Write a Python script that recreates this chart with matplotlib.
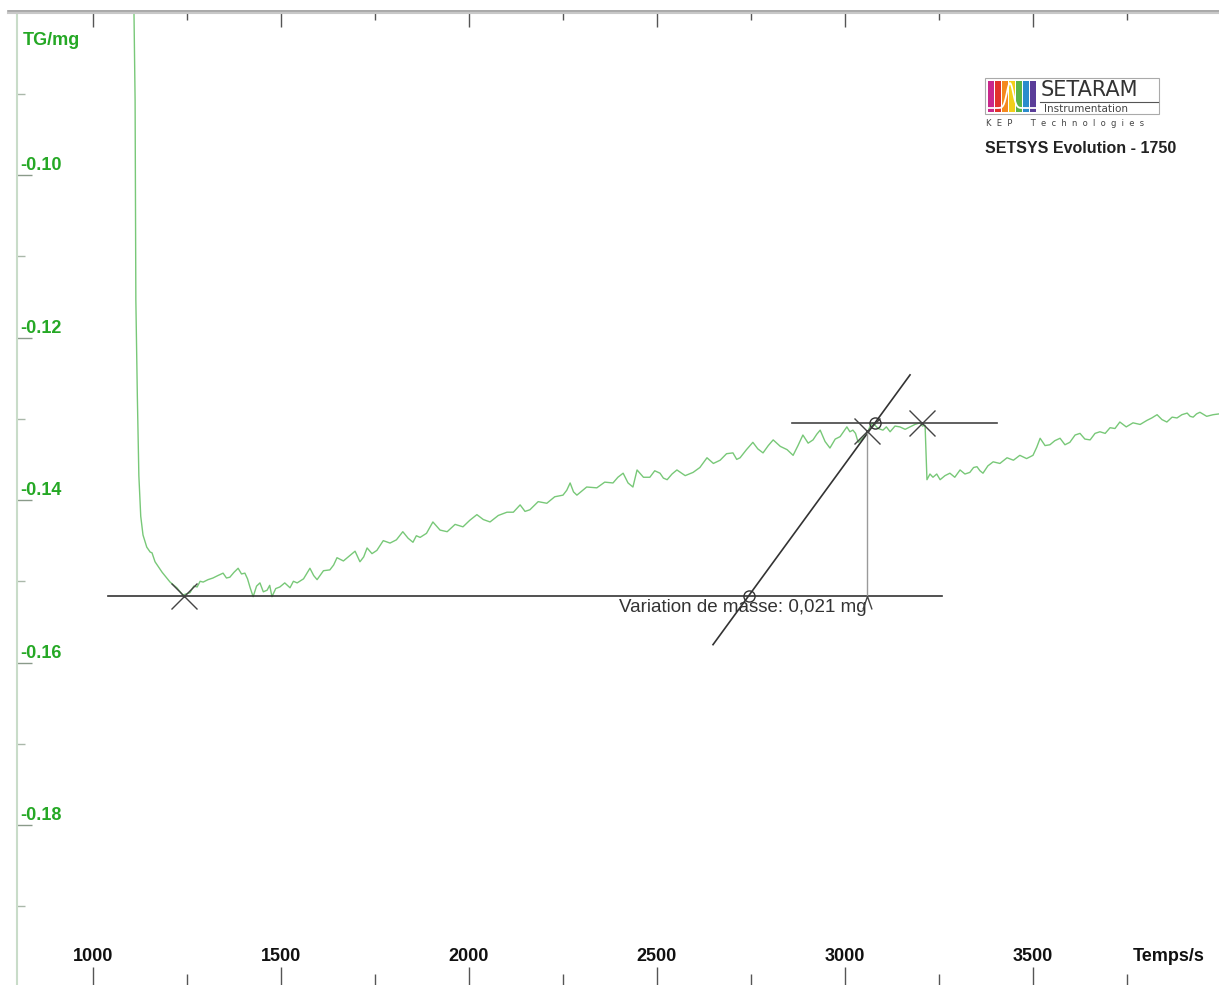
import numpy as np
import matplotlib
matplotlib.use("Agg")
import matplotlib.pyplot as plt
from matplotlib.lines import Line2D
from matplotlib.patches import Rectangle
from matplotlib import transforms

# ---------------- data ----------------
time_s = [1105, 1109, 1112, 1114, 1118, 1122, 1127, 1133, 1143, 1152,
          1157, 1165, 1184, 1205, 1223, 1239, 1258, 1268, 1277, 1285,
          1293, 1306, 1319, 1332, 1346, 1355, 1364, 1375, 1386, 1395,
          1404, 1411, 1418, 1426, 1435, 1444, 1453, 1463, 1470, 1476,
          1486, 1497, 1510, 1524, 1533, 1543, 1560, 1577, 1587, 1596,
          1613, 1630, 1640, 1649, 1666, 1684, 1697, 1710, 1720, 1729,
          1742, 1755, 1772, 1790, 1807, 1824, 1838, 1851, 1860, 1870,
          1887, 1904, 1923, 1942, 1963, 1984, 2002, 2021, 2038, 2056,
          2078, 2101, 2118, 2136, 2149, 2162, 2184, 2207, 2228, 2250,
          2260, 2269, 2278, 2287, 2313, 2340, 2361, 2383, 2396, 2410,
          2423, 2436, 2447, 2464, 2481, 2494, 2508, 2517, 2527, 2540,
          2553, 2575, 2596, 2614, 2633, 2650, 2668, 2685, 2702, 2712,
          2721, 2738, 2755, 2768, 2782, 2796, 2809, 2828, 2846, 2862,
          2875, 2888, 2902, 2915, 2925, 2934, 2947, 2960, 2974, 2987,
          2996, 3005, 3013, 3021, 3028, 3035, 3047, 3059, 3066, 3074,
          3088, 3101, 3110, 3120, 3133, 3146, 3160, 3173, 3186, 3199,
          3206, 3213, 3218, 3226, 3234, 3244, 3253, 3266, 3279, 3292,
          3306, 3319, 3332, 3342, 3351, 3359, 3367, 3380, 3394, 3412,
          3431, 3448, 3465, 3483, 3500, 3510, 3519, 3532, 3545, 3558,
          3572, 3585, 3598, 3612, 3625, 3638, 3652, 3665, 3678, 3692,
          3705, 3718, 3731, 3748, 3766, 3785, 3803, 3816, 3830, 3843,
          3856, 3870, 3883, 3896, 3910, 3918, 3926, 3935, 3944, 3962,
          3979, 3995]
mass_mg = [-0.0750, -0.0799, -0.0908, -0.1154, -0.1273, -0.1370, -0.1420, -0.1443, -0.1458, -0.1464,
           -0.1465, -0.1476, -0.1489, -0.1501, -0.1508, -0.1517, -0.1514, -0.1506, -0.1507, -0.1500,
           -0.1501, -0.1498, -0.1496, -0.1493, -0.1490, -0.1496, -0.1495, -0.1489, -0.1484, -0.1491,
           -0.1490, -0.1497, -0.1508, -0.1519, -0.1506, -0.1502, -0.1513, -0.1511, -0.1505, -0.1519,
           -0.1509, -0.1507, -0.1502, -0.1508, -0.1500, -0.1502, -0.1497, -0.1484, -0.1493, -0.1498,
           -0.1487, -0.1486, -0.1480, -0.1471, -0.1475, -0.1468, -0.1463, -0.1476, -0.1470, -0.1459,
           -0.1466, -0.1462, -0.1450, -0.1453, -0.1449, -0.1439, -0.1447, -0.1452, -0.1444, -0.1446,
           -0.1441, -0.1427, -0.1437, -0.1439, -0.1430, -0.1433, -0.1425, -0.1418, -0.1424, -0.1427,
           -0.1419, -0.1415, -0.1415, -0.1406, -0.1414, -0.1412, -0.1402, -0.1404, -0.1396, -0.1394,
           -0.1388, -0.1379, -0.1390, -0.1394, -0.1384, -0.1385, -0.1378, -0.1379, -0.1372, -0.1367,
           -0.1379, -0.1384, -0.1363, -0.1372, -0.1372, -0.1364, -0.1367, -0.1373, -0.1375, -0.1368,
           -0.1363, -0.1370, -0.1366, -0.1360, -0.1348, -0.1355, -0.1351, -0.1343, -0.1342, -0.1350,
           -0.1348, -0.1338, -0.1329, -0.1337, -0.1342, -0.1333, -0.1326, -0.1334, -0.1338, -0.1345,
           -0.1333, -0.1320, -0.1330, -0.1326, -0.1319, -0.1314, -0.1328, -0.1336, -0.1325, -0.1322,
           -0.1316, -0.1310, -0.1316, -0.1314, -0.1318, -0.1329, -0.1324, -0.1318, -0.1310, -0.1305,
           -0.1312, -0.1314, -0.1310, -0.1316, -0.1309, -0.1310, -0.1313, -0.1310, -0.1307, -0.1305,
           -0.1309, -0.1308, -0.1375, -0.1368, -0.1372, -0.1368, -0.1375, -0.1370, -0.1367, -0.1372,
           -0.1363, -0.1368, -0.1366, -0.1360, -0.1359, -0.1364, -0.1367, -0.1358, -0.1353, -0.1355,
           -0.1348, -0.1351, -0.1345, -0.1349, -0.1345, -0.1335, -0.1324, -0.1333, -0.1332, -0.1327,
           -0.1324, -0.1332, -0.1329, -0.1320, -0.1318, -0.1325, -0.1326, -0.1318, -0.1316, -0.1318,
           -0.1311, -0.1312, -0.1304, -0.1310, -0.1305, -0.1307, -0.1302, -0.1299, -0.1295, -0.1301,
           -0.1304, -0.1298, -0.1299, -0.1295, -0.1293, -0.1297, -0.1298, -0.1294, -0.1292, -0.1297,
           -0.1295, -0.1294]

# mass-change construction
baseline_t = [1040, 3258]
baseline_mass = -0.1518
upper_t = [2859, 3404]
upper_mass = -0.1305
cross_t = [1242, 3059, 3205]
cross_m = [-0.1518, -0.1315, -0.1305]
circle_t = [2745, 3080]
circle_m = [-0.1518, -0.1305]
tangent_t = [2649, 3173]
tangent_m = [-0.1578, -0.1246]
step_t = 3059
mass_change = 0.021
label_t = 2399
label_m = -0.1538

x_major = [1000, 1500, 2000, 2500, 3000, 3500]
x_minor = [1250, 1750, 2250, 2750, 3250, 3750]
y_major = [-0.18, -0.16, -0.14, -0.12, -0.10]
y_minor = [-0.19, -0.17, -0.15, -0.13, -0.11, -0.09]
y_axis_t = 798

# ---------------- figure ----------------
W, H = 1219, 985
plt.rcParams["font.family"] = ["Liberation Sans", "DejaVu Sans"]
fig = plt.figure(figsize=(W / 100, H / 100), dpi=100)
fig.patch.set_facecolor("white")
ax = fig.add_axes([0, 0, 1, 972 / 985])
ax.set_xlim(752.7, 3994.7)
ax.set_ylim(-0.19969, -0.08006)


def fx(x):
    return x / W


def fy(y):
    return 1 - y / H


green = "#25a825"
curve_col = "#78c878"

ax.plot(time_s, mass_mg, color=curve_col, lw=1.0, zorder=3)

# construction lines
ax.plot(baseline_t, [baseline_mass] * 2, color="#333333", lw=1.2, zorder=4)
ax.plot(upper_t, [upper_mass] * 2, color="#444444", lw=1.2, zorder=4)
ax.plot(tangent_t, tangent_m, color="#333333", lw=1.2, zorder=4)
ax.plot([step_t, step_t], [cross_m[1], baseline_mass], color="#9a9a9a", lw=1.0, zorder=4)
ax.plot(cross_t, cross_m, ls="none", marker="x", ms=19, mew=1.0, color="#444444", zorder=5)
ax.plot(circle_t, circle_m, ls="none", marker="o", ms=8, mfc="none", mec="#333333",
        mew=1.0, zorder=5)
ax.plot([step_t], [baseline_mass], ls="none",
        marker=[(-0.35, -1.0), (0.0, 0.0), (0.35, -1.0)], ms=18.7, mfc="none",
        mec="#444444", mew=1.0, zorder=5)
ax.text(label_t, label_m, "Variation de masse: " + f"{mass_change:.3f}".replace(".", ",") + " mg",
        fontsize=13.5, color="#333333", ha="left", va="baseline", zorder=3)

# spines / ticks
for s in ["top", "right", "bottom"]:
    ax.spines[s].set_visible(False)
ax.spines["left"].set_position(("data", y_axis_t))
ax.spines["left"].set_color("#c9dcc9")
ax.spines["left"].set_linewidth(1.5)

ax.set_yticks(y_major)
ax.set_yticks(y_minor, minor=True)
ax.tick_params(axis="y", which="major", direction="in", length=10.8, width=1.0,
               color="#8a9a8a", labelleft=False)
ax.tick_params(axis="y", which="minor", direction="in", length=5.8, width=1.0,
               color="#aab8aa", labelleft=False)

ax.set_xticks(x_major)
ax.set_xticks(x_minor, minor=True)
ax.tick_params(axis="x", which="major", direction="in", length=13, width=1.0,
               color="#555555", labelbottom=False)
ax.tick_params(axis="x", which="minor", direction="in", length=8, width=1.0,
               color="#555555", labelbottom=False)

sec = ax.secondary_xaxis("top")
sec.set_xticks(x_major)
sec.set_xticks(x_minor, minor=True)
sec.tick_params(axis="x", which="major", direction="in", length=10, width=1.0,
                color="#555555", labeltop=False)
sec.tick_params(axis="x", which="minor", direction="in", length=5, width=1.0,
                color="#555555", labeltop=False)
sec.spines["top"].set_visible(False)

# tick labels (drawn inside the plotting area as in the instrument software)
ylab_tr = transforms.offset_copy(ax.transData, fig=fig, x=0, y=3.3, units="points")
for v in y_major:
    ax.text(806, v, f"{v:.2f}", transform=ylab_tr, color=green, fontweight="bold",
            fontsize=13, ha="left", va="baseline")
xlab_tr = transforms.blended_transform_factory(ax.transData, fig.transFigure)
for v in x_major:
    ax.text(v, fy(961), f"{v}", transform=xlab_tr, color="#111111", fontweight="bold",
            fontsize=13, ha="center", va="baseline")
fig.text(fx(1133), fy(961), "Temps/s", color="#111111", fontweight="bold", fontsize=13,
         ha="left", va="baseline")
fig.text(fx(23), fy(45), "TG/mg", color=green, fontweight="bold", fontsize=13,
         ha="left", va="baseline")

# top border (double grey line)
fig.add_artist(Line2D([fx(8), 1], [fy(10.5), fy(10.5)], transform=fig.transFigure,
                      color="#9a9a9a", lw=1.2))
fig.add_artist(Line2D([fx(8), 1], [fy(13), fy(13)], transform=fig.transFigure,
                      color="#c8c8c8", lw=1.5))

# ---------------- logo ----------------
fig.add_artist(Rectangle((fx(985), fy(114)), fx(1159) - fx(985), fy(78) - fy(114),
                         transform=fig.transFigure, fill=False, ec="#aaaaaa", lw=0.8))
bar_cols = ["#c8288c", "#e2322c", "#f4891f", "#f2cf1a", "#5bb446", "#2b8ccc", "#5a3d99"]
for i, c in enumerate(bar_cols):
    x0 = 988 + i * 7
    fig.add_artist(Rectangle((fx(x0), fy(112)), fx(6), fy(81) - fy(112),
                             transform=fig.transFigure, fc=c, ec="none"))
px = np.linspace(988, 1037, 60)
py = 108 - 25 * np.exp(-((px - 1010) / 4.5) ** 2)
fig.add_artist(Line2D(px / W, 1 - py / H, transform=fig.transFigure, color="white", lw=1.3))
fig.text(fx(1041), fy(96), "SETARAM", fontsize=15, color="#333333", ha="left",
         va="baseline", family="DejaVu Sans")
fig.add_artist(Line2D([fx(1040), fx(1158)], [fy(101.5), fy(101.5)], transform=fig.transFigure,
                      color="#555555", lw=0.8))
fig.text(fx(1044), fy(112), "Instrumentation", fontsize=7.5, color="#444444", ha="left",
         va="baseline", family="DejaVu Sans")
fig.text(fx(986), fy(126), "K  E  P       T  e  c  h  n  o  l  o  g  i  e  s", fontsize=6,
         color="#444444", ha="left", va="baseline", family="DejaVu Sans")
fig.text(fx(985), fy(153), "SETSYS Evolution - 1750", fontsize=11.5, color="#222222",
         fontweight="bold", ha="left", va="baseline")

fig.savefig("out.png", dpi=100, facecolor="white")
